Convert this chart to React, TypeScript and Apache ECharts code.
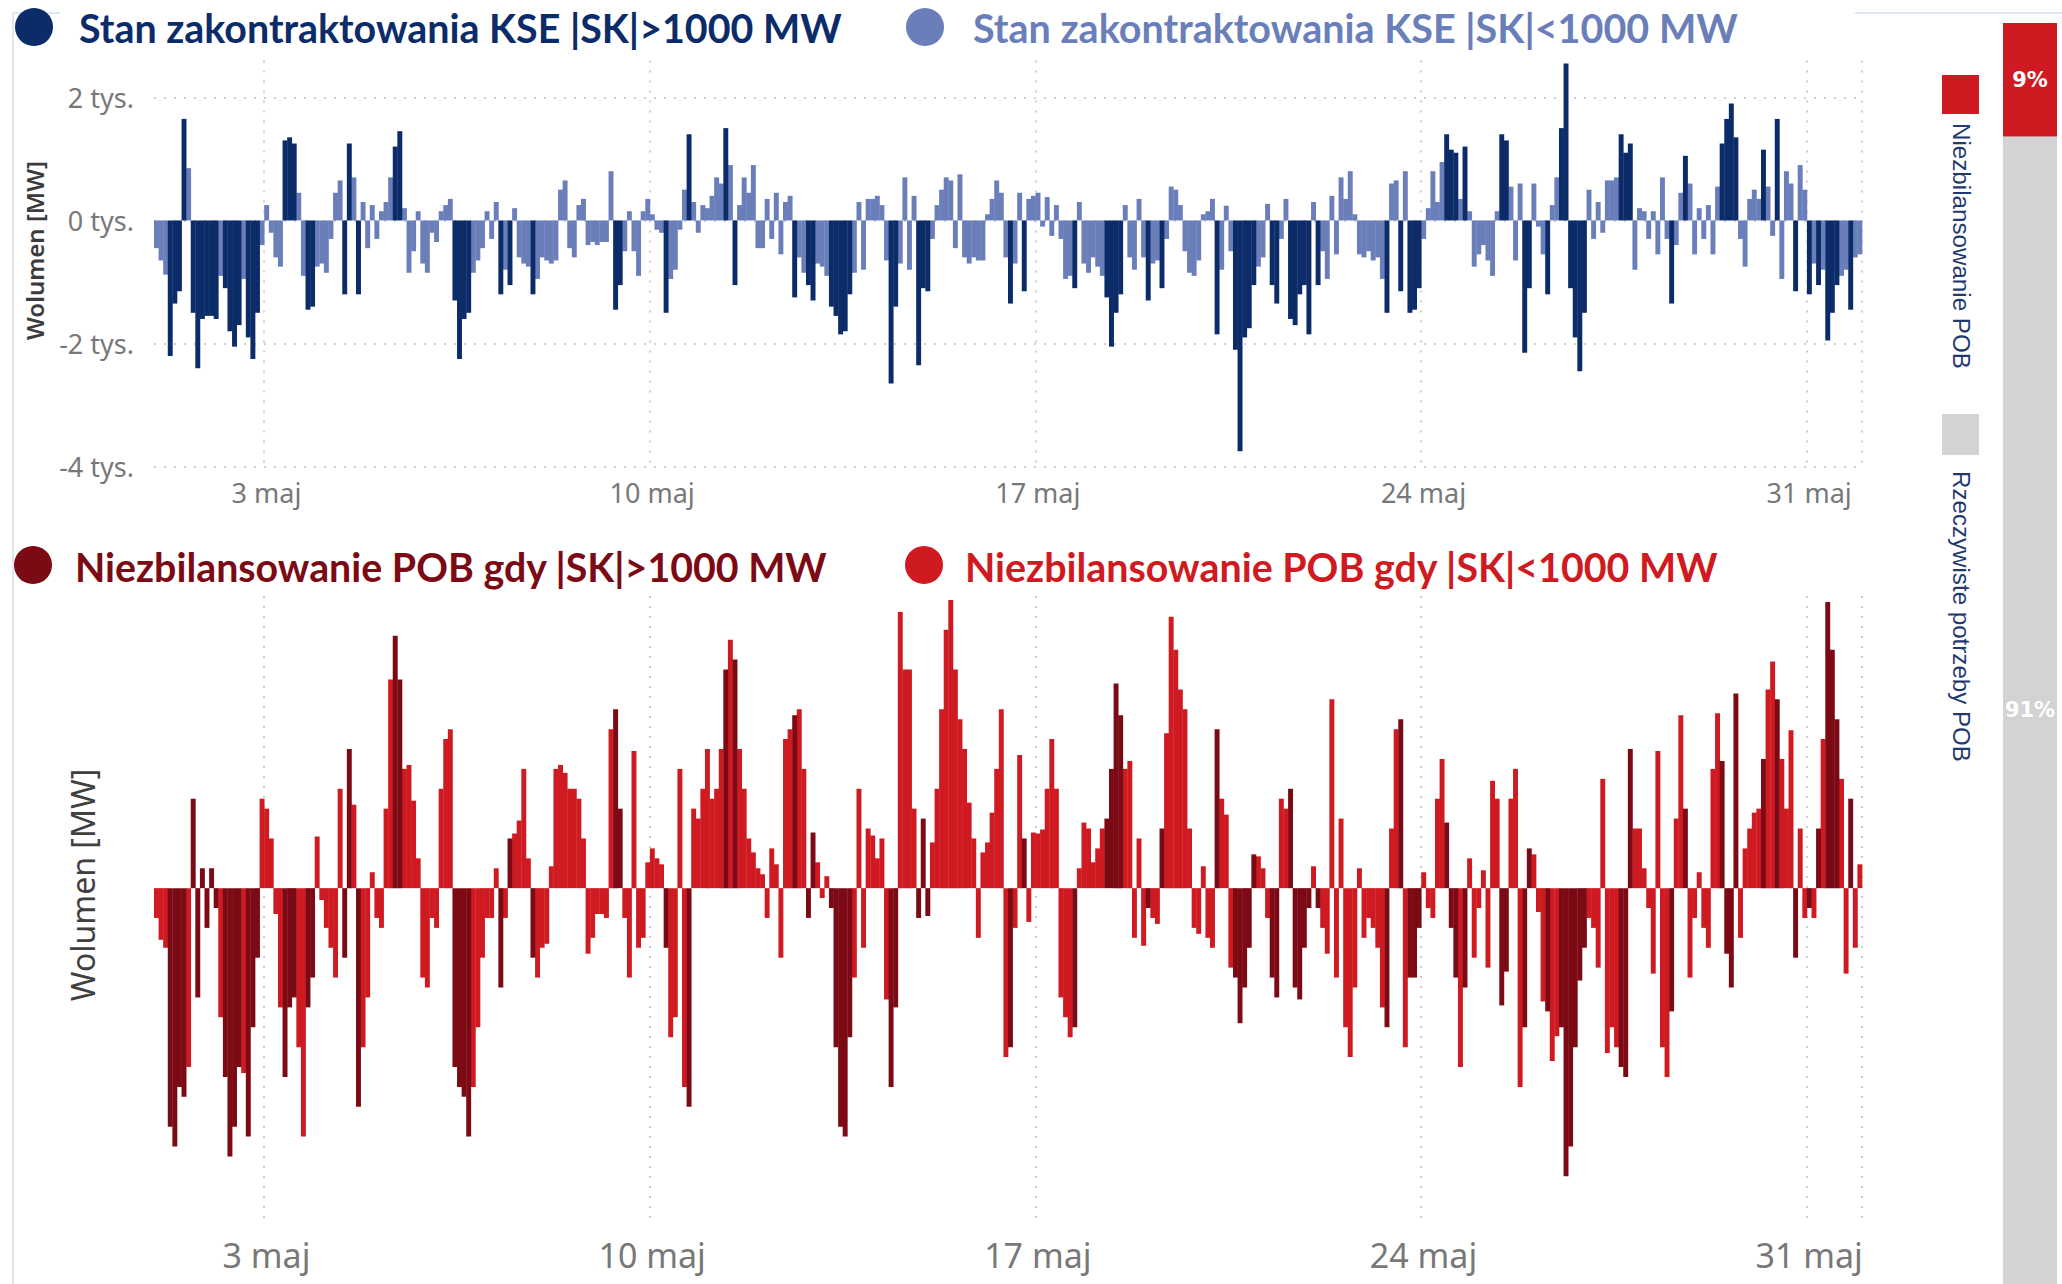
import React, { useEffect, useRef } from 'react';
import * as echarts from 'echarts';

// ---- Stan zakontraktowania KSE (SK), MW, 2-hour slots, 1..31 maj ----
const SK_WEEK1 = [
  -450, -650, -880, -2200, -1350, -1150, 1650, 850, -1500, -2400, -1600, -1550,
  -1550, -1600, -900, -1100, -1800, -2050, -1700, -950, -1900, -2250, -1500, -400,
  250, -200, -600, -750, 1300, 1350, 1250, 450, -900, -1450, -1400, -750,
  -700, -850, -300, 450, 650, -1200, 1250, 700, -1200, 300, -450, 250,
  -300, 150, 300, 700, 1200, 1450, 200, -850, -500, 150, -700, -850,
  -200, -350, 150, 250, 350, -1300, -2250, -1600, -1500, -850, -650, -450,
  150, -300, 300, -1200, -800, -1050, 200, -600, -700, -750, -1200, -950,
];
const SK_WEEK2 = [
  -600, -650, -700, -650, 500, 650, -450, -600, 250, 350, -400, -350,
  -400, -350, -350, 800, -1450, -1050, -500, 150, -500, -900, 150, 350,
  100, -150, -200, -1500, -950, -800, -150, 500, 1400, 300, -200, 250,
  200, 400, 700, 600, 1500, 900, -1050, 250, 700, 450, 900, -450,
  -450, 350, -300, 450, -550, 300, 400, -1250, -600, -850, -1050, -1300,
  -700, -750, -900, -1400, -1550, -1850, -1800, -1200, -850, 300, -800, 350,
  350, 400, 250, -650, -2650, -1400, -700, 700, -800, 400, -2350, -1100,
];
const SK_WEEK3 = [
  -1150, -300, 250, 500, 700, 650, -450, 750, -600, -700, -600, -650,
  -650, 100, 350, 650, 450, -600, -1350, -700, 450, -1150, 350, 400,
  450, -100, 380, -250, 250, -300, -950, -900, -1100, 300, -700, -850,
  -600, -750, -900, -1250, -2050, -1500, -1200, 250, -600, -800, 350, -600,
  -1300, -700, -650, -1100, -300, 550, 500, 250, -500, -850, -900, -650,
  100, 150, 350, -1850, -800, 240, -500, -2100, -3750, -1900, -1750, -1050,
  -750, -600, 270, -1050, -1350, -300, 350, -1600, -1700, -1200, -1050, -1850,
];
const SK_WEEK4 = [
  300, -1050, -500, -950, 400, -550, 700, 350, 800, 100, -550, -600,
  -500, -650, -600, -950, -1500, 600, 650, -1150, 800, -1500, -1450, -1100,
  -300, 200, 800, 300, 950, 1400, 1150, 1100, 350, 1200, 150, -750,
  -550, -400, -650, -900, 150, 1400, 1300, 550, -650, 600, -2150, -1100,
  600, -100, -550, -1200, 250, 700, 1500, 2550, -1100, -1900, -2450, -1500,
  500, -300, 300, -200, 650, 650, 700, 1400, 1100, 1250, -800, 200,
  150, -300, 150, -550, 700, -300, -1350, -400, 450, 1050, 600, -550,
];
const SK_WEEK5 = [
  200, -300, 250, -550, 550, 1250, 1650, 1900, 1350, -300, -750, 350,
  500, 350, 1150, 550, -250, 1650, -950, 800, 600, -1150, 900, 500,
  -1200, -700, -1050, -800, -1950, -1500, -1050, -900, -800, -1450, -600, -550,
];

// ---- Niezbilansowanie POB, MW, same slots ----
const POB_WEEK1 = [
  -150, -260, -300, -1200, -1300, -1000, -1050, -900, 450, -550, 100, -200,
  100, -100, -650, -950, -1350, -1200, -900, -930, -1250, -700, -350, 450,
  400, 250, -130, -600, -950, -600, -550, -800, -1250, -600, -450, 260,
  -60, -200, -300, -450, 500, -350, 700, 420, -1100, -800, -550, 80,
  -150, -200, 400, 1050, 1270, 1050, 600, 620, 440, 150, -450, -500,
  -150, -200, 500, 750, 800, -900, -1000, -1050, -1250, -1000, -700, -350,
  -150, -150, 100, -500, -150, 250, 275, 340, 600, 150, -350, -450,
];
const POB_WEEK2 = [
  -300, -280, 110, 600, 620, 580, 500, 500, 450, 250, -330, -250,
  -130, -130, -150, 800, 900, 400, -150, -450, 690, -300, -250, 130,
  200, 150, 120, -300, -750, -650, 600, -1000, -1100, 400, 350, 500,
  700, 450, 500, 700, 1100, 1250, 1150, 700, 500, 250, 180, 100,
  70, -150, 200, 120, -350, 750, 800, 870, 900, 600, -150, 280,
  130, -50, 60, -100, -800, -1200, -1250, -750, -450, 500, -300, 300,
  265, 150, 250, -560, -1000, -600, 1390, 1100, 1100, 400, -150, 350,
];
const POB_WEEK3 = [
  -140, 230, 500, 900, 1300, 1450, 1100, 850, 700, 430, 250, -250,
  180, 230, 380, 600, 900, -850, -800, -200, 670, 250, -170, 280,
  275, 295, 500, 750, 500, -550, -650, -750, -700, 100, 330, 300,
  130, 200, 300, 350, 600, 1030, 870, 600, 640, -250, 250, -290,
  -100, -150, -180, 300, 780, 1365, 1200, 1000, 900, 300, -200, -230,
  110, -250, -300, 800, 450, 370, -400, -450, -680, -500, -300, 170,
  160, 100, -150, -450, -550, 450, 400, 500, -500, -560, -300, -100,
];
const POB_WEEK4 = [
  110, -100, -200, -330, 950, -450, 350, -700, -850, -500, 100, -250,
  -150, -200, -300, -600, -700, 300, 800, 850, -800, -450, -450, -200,
  80, -100, -150, 450, 650, 330, -200, -450, -900, -500, 150, -350,
  -100, 90, -400, 540, 450, -590, -420, 450, 600, -1000, -700, 200,
  170, -120, -570, -620, -870, -745, -700, -1450, -1300, -800, -465, -300,
  -150, -200, -400, 550, -830, -700, -800, -900, -950, 700, 300, 300,
  100, -100, -430, 690, -800, -950, -620, 350, 870, 400, -450, -150,
];
const POB_WEEK5 = [
  80, -200, -300, 600, 880, 640, -330, -500, 980, -250, 200, 300,
  380, 400, 650, 1000, 1140, 950, 650, 400, 795, -350, 300, -150,
  -100, -150, 300, 750, 1440, 1200, 850, 550, -430, 450, -300, 120,
];

const DAYS = 31;
const SLOT_HOURS = [0, 2, 4, 6, 8, 10, 12, 14, 16, 18, 20, 22];
const TICK_DAYS = [3, 10, 17, 24, 31];
const SK_LIMIT = 1000;

const SHARE_NAMES = ['Rzeczywiste potrzeby POB', 'Niezbilansowanie POB'];
const SHARE_VALUES = [91, 9];

const LEG_TOP_HIGH = 'Stan zakontraktowania KSE |SK|>1000 MW';
const LEG_TOP_LOW = 'Stan zakontraktowania KSE |SK|<1000 MW';
const LEG_BOT_HIGH = 'Niezbilansowanie POB gdy |SK|>1000 MW';
const LEG_BOT_LOW = 'Niezbilansowanie POB gdy |SK|<1000 MW';

const DARK_BLUE = '#0b2c69';
const LIGHT_BLUE = '#6a7fba';
const DARK_RED = '#7c0a15';
const RED = '#d01a21';
const GRAY = '#d3d3d3';
const AXIS_GRAY = '#787878';

function fitFont(text: string, weight: string, family: string, target: number): number {
  const base = 40;
  const ctx = document.createElement('canvas').getContext('2d');
  if (!ctx) return base;
  ctx.font = `${weight} ${base}px ${family}`;
  const w = ctx.measureText(text).width;
  return w > 0 ? (base * target) / w : base;
}

// bar drawn through the axis scales: full category band width
function renderBandBar(_params: any, api: any) {
  const idx = api.value(0);
  const val = api.value(1);
  const p0 = api.coord([idx, 0]);
  const p1 = api.coord([idx, val]);
  const w = api.size([1, 0])[0];
  return {
    type: 'rect',
    shape: {
      x: p0[0] - w / 2,
      y: Math.min(p0[1], p1[1]),
      width: w + 0.35,
      height: Math.max(Math.abs(p0[1] - p1[1]), 0.5),
    },
    style: { fill: api.visual('color') },
  };
}

export default function App() {
  const ref = useRef<HTMLDivElement>(null);

  useEffect(() => {
    document.body.style.margin = '0';
    document.body.style.overflow = 'hidden';
    const el = ref.current;
    if (!el) return;
    const chart = echarts.init(el, null, { renderer: 'svg' });

    const sk = [...SK_WEEK1, ...SK_WEEK2, ...SK_WEEK3, ...SK_WEEK4, ...SK_WEEK5];
    const pob = [...POB_WEEK1, ...POB_WEEK2, ...POB_WEEK3, ...POB_WEEK4, ...POB_WEEK5];
    const cats: string[] = [];
    for (let d = 1; d <= DAYS; d++) {
      for (const h of SLOT_HOURS) cats.push(`${d} maj ${String(h).padStart(2, '0')}:00`);
    }
    const high = sk.map((v) => Math.abs(v) > SK_LIMIT);
    const pick = (arr: number[], wantHigh: boolean) =>
      arr.map((v, i) => [i, v]).filter((_, i) => high[i] === wantHigh);

    const isTick = (idx: number) =>
      idx % SLOT_HOURS.length === 0 && TICK_DAYS.includes(idx / SLOT_HOURS.length + 1);
    const dotted = { type: [2, 8] as any, color: '#cfcfcf', width: 2 };

    const legendFamily = 'Lato, "Noto Sans", sans-serif';
    const fsTop1 = fitFont(LEG_TOP_HIGH, 'bold', legendFamily, 763);
    const fsTop2 = fitFont(LEG_TOP_LOW, 'bold', legendFamily, 765);
    const fsBot1 = fitFont(LEG_BOT_HIGH, 'bold', legendFamily, 753);
    const fsBot2 = fitFont(LEG_BOT_LOW, 'bold', legendFamily, 754);
    const sideFamily = '"Liberation Sans", Arial, sans-serif';
    const fsSide1 = fitFont(SHARE_NAMES[1], 'normal', sideFamily, 246);
    const fsSide2 = fitFont(SHARE_NAMES[0], 'normal', sideFamily, 291);

    const xAxisBase = (gridIndex: number, fontSize: number) => ({
      type: 'category',
      gridIndex,
      data: cats,
      boundaryGap: true,
      axisLine: { show: false },
      axisTick: { show: false },
      axisLabel: {
        interval: (i: number) => isTick(i),
        formatter: (v: string) => v.split(' ').slice(0, 2).join(' '),
        color: AXIS_GRAY,
        fontSize,
        fontFamily: '"Noto Sans", sans-serif',
        margin: 12,
      },
      splitLine: { show: true, interval: (i: number) => isTick(i), lineStyle: dotted },
    });

    const barSeries = (name: string, axis: number, data: number[][], color: string, z: number) => ({
      type: 'custom',
      name,
      xAxisIndex: axis,
      yAxisIndex: axis,
      renderItem: renderBandBar,
      encode: { x: 0, y: 1 },
      data,
      itemStyle: { color },
      silent: true,
      z,
    });

    const shareLabel = {
      show: true,
      position: 'inside',
      formatter: '{c}%',
      color: '#ffffff',
      fontSize: 21,
      fontWeight: 'bold',
      fontFamily: '"DejaVu Sans", sans-serif',
    };

    const option: any = {
      animation: false,
      backgroundColor: '#ffffff',
      grid: [
        { left: 154, right: 200, top: 60.4, height: 406.3 },
        { left: 154, right: 200, top: 596, height: 630 },
        { left: 2003, width: 54, top: 23, bottom: 0 },
      ],
      xAxis: [
        xAxisBase(0, 27),
        xAxisBase(1, 34),
        { type: 'category', gridIndex: 2, data: ['POB'], show: false },
      ],
      yAxis: [
        {
          type: 'value',
          gridIndex: 0,
          min: -4000,
          max: 2600,
          interval: 2000,
          axisLine: { show: false },
          axisTick: { show: false },
          axisLabel: {
            formatter: (v: number) => (v % 2000 === 0 ? `${v / 1000} tys.` : ''),
            showMaxLabel: false,
            color: AXIS_GRAY,
            fontSize: 27,
            fontFamily: '"Noto Sans", sans-serif',
            margin: 20,
          },
          splitLine: { show: true, showMaxLine: false, lineStyle: dotted },
          name: 'Wolumen [MW]',
          nameLocation: 'middle',
          nameRotate: 90,
          nameGap: 108,
          nameTextStyle: {
            color: '#3c3c3c',
            fontSize: 24,
            fontWeight: 600,
            fontFamily: '"Noto Sans", sans-serif',
            padding: [0, 0, 0, 26],
          },
        },
        {
          type: 'value',
          gridIndex: 1,
          min: -1700,
          max: 1470,
          axisLine: { show: false },
          axisTick: { show: false },
          axisLabel: { show: false },
          splitLine: { show: false },
          name: 'Wolumen [MW]',
          nameLocation: 'middle',
          nameRotate: 90,
          nameGap: 56,
          nameTextStyle: {
            color: '#404040',
            fontSize: 32,
            fontFamily: '"Noto Sans", sans-serif',
            padding: [0, 0, 0, 52],
          },
        },
        { type: 'value', gridIndex: 2, min: 0, max: 100, show: false },
      ],
      series: [
        barSeries(LEG_TOP_LOW, 0, pick(sk, false), LIGHT_BLUE, 2),
        barSeries(LEG_TOP_HIGH, 0, pick(sk, true), DARK_BLUE, 3),
        barSeries(LEG_BOT_LOW, 1, pick(pob, false), RED, 2),
        barSeries(LEG_BOT_HIGH, 1, pick(pob, true), DARK_RED, 3),
        {
          type: 'bar',
          name: SHARE_NAMES[0],
          xAxisIndex: 2,
          yAxisIndex: 2,
          stack: 'share',
          barWidth: '100%',
          silent: true,
          data: [SHARE_VALUES[0]],
          itemStyle: { color: GRAY },
          label: shareLabel,
        },
        {
          type: 'bar',
          name: SHARE_NAMES[1],
          xAxisIndex: 2,
          yAxisIndex: 2,
          stack: 'share',
          barWidth: '100%',
          silent: true,
          data: [SHARE_VALUES[1]],
          itemStyle: { color: RED },
          label: shareLabel,
        },
      ],
      graphic: [
        { type: 'line', shape: { x1: 13, y1: 13, x2: 13, y2: 1284 }, style: { stroke: '#dde6f1', lineWidth: 2 }, silent: true },
        { type: 'line', shape: { x1: 13, y1: 13, x2: 60, y2: 13 }, style: { stroke: '#dde6f1', lineWidth: 2 }, silent: true },
        { type: 'line', shape: { x1: 1855, y1: 13, x2: 2062, y2: 13 }, style: { stroke: '#dde6f1', lineWidth: 2 }, silent: true },
        // top legend
        { type: 'circle', shape: { cx: 34, cy: 27, r: 19 }, style: { fill: DARK_BLUE } },
        {
          type: 'text', x: 79, y: 27,
          style: { text: LEG_TOP_HIGH, fill: DARK_BLUE, font: `bold ${fsTop1}px ${legendFamily}`, textAlign: 'left', textVerticalAlign: 'middle' },
        },
        { type: 'circle', shape: { cx: 925, cy: 27, r: 19 }, style: { fill: LIGHT_BLUE } },
        {
          type: 'text', x: 973, y: 27,
          style: { text: LEG_TOP_LOW, fill: LIGHT_BLUE, font: `bold ${fsTop2}px ${legendFamily}`, textAlign: 'left', textVerticalAlign: 'middle' },
        },
        // bottom legend
        { type: 'circle', shape: { cx: 33, cy: 565, r: 19 }, style: { fill: DARK_RED } },
        {
          type: 'text', x: 75, y: 566,
          style: { text: LEG_BOT_HIGH, fill: DARK_RED, font: `bold ${fsBot1}px ${legendFamily}`, textAlign: 'left', textVerticalAlign: 'middle' },
        },
        { type: 'circle', shape: { cx: 924, cy: 565, r: 19 }, style: { fill: RED } },
        {
          type: 'text', x: 965, y: 566,
          style: { text: LEG_BOT_LOW, fill: RED, font: `bold ${fsBot2}px ${legendFamily}`, textAlign: 'left', textVerticalAlign: 'middle' },
        },
        // right legend
        { type: 'rect', shape: { x: 1942, y: 75, width: 37, height: 39 }, style: { fill: RED } },
        {
          type: 'text', x: 1961, y: 123, rotation: -Math.PI / 2,
          style: { text: SHARE_NAMES[1], fill: '#1f3a6e', font: `${fsSide1}px ${sideFamily}`, textAlign: 'left', textVerticalAlign: 'middle' },
        },
        { type: 'rect', shape: { x: 1942, y: 414, width: 37, height: 41 }, style: { fill: GRAY } },
        {
          type: 'text', x: 1961, y: 471, rotation: -Math.PI / 2,
          style: { text: SHARE_NAMES[0], fill: '#1f3a6e', font: `${fsSide2}px ${sideFamily}`, textAlign: 'left', textVerticalAlign: 'middle' },
        },
      ],
    };

    chart.setOption(option);
    return () => chart.dispose();
  }, []);

  return (
    <div
      ref={ref}
      style={{ position: 'absolute', left: 0, top: 0, width: 2062, height: 1284, background: '#ffffff' }}
    />
  );
}
